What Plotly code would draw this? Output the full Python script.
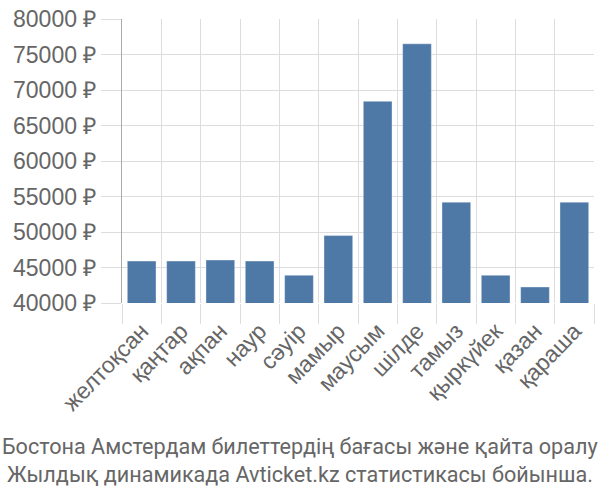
import plotly.graph_objects as go

months = ["желтоқсан", "қаңтар", "ақпан", "наур", "сәуір", "мамыр",
          "маусым", "шілде", "тамыз", "қыркүйек", "қазан", "қараша"]
prices = [45900, 45900, 46050, 45900, 43900, 49500,
          68400, 76500, 54200, 43900, 42250, 54200]
y_ticks = [40000, 45000, 50000, 55000, 60000, 65000, 70000, 75000, 80000]
y_tick_labels = [f"{v} ₽" for v in y_ticks]
title_lines = ["Бостона Амстердам билеттердің бағасы және қайта оралу",
               "Жылдық динамикада Avticket.kz статистикасы бойынша."]

grid = "#dddddd"
txt = "#666666"

fig = go.Figure(go.Bar(
    x=months, y=prices,
    marker=dict(color="#4e79a7", line=dict(color="rgba(255,255,255,0.35)", width=1)),
))

fig.update_layout(
    width=600, height=500,
    margin=dict(l=122, r=6, t=14, b=197),
    paper_bgcolor="white", plot_bgcolor="white",
    bargap=0.27,
    showlegend=False,
    font=dict(family="Liberation Sans, Arial, sans-serif", color=txt),
)
fig.update_xaxes(
    tickson="boundaries", showgrid=True, gridcolor=grid, gridwidth=1,
    ticks="outside", ticklen=20, tickcolor=grid, tickwidth=1,
    tickangle=-46, tickfont=dict(size=23, color=txt), ticklabelstandoff=9,
    showline=False, zeroline=False,
)
fig.update_yaxes(
    range=[40000, 80000], tickvals=y_ticks, ticktext=y_tick_labels,
    showgrid=True, gridcolor=grid, gridwidth=1,
    ticks="outside", ticklen=20, tickcolor=grid,
    showline=True, linecolor="#aaaaaa", linewidth=1,
    tickfont=dict(size=23, color=txt), zeroline=False,
)
for i, line in enumerate(title_lines):
    fig.add_annotation(
        text=line, xref="paper", yref="paper",
        x=0.5, xanchor="center", xshift=-58,
        y=0, yanchor="middle", yshift=-(143 + 28.4 * i),
        showarrow=False,
        font=dict(family="Roboto, Liberation Sans, sans-serif",
                  size=21.6, color=txt),
    )

fig.write_html("out.html")
